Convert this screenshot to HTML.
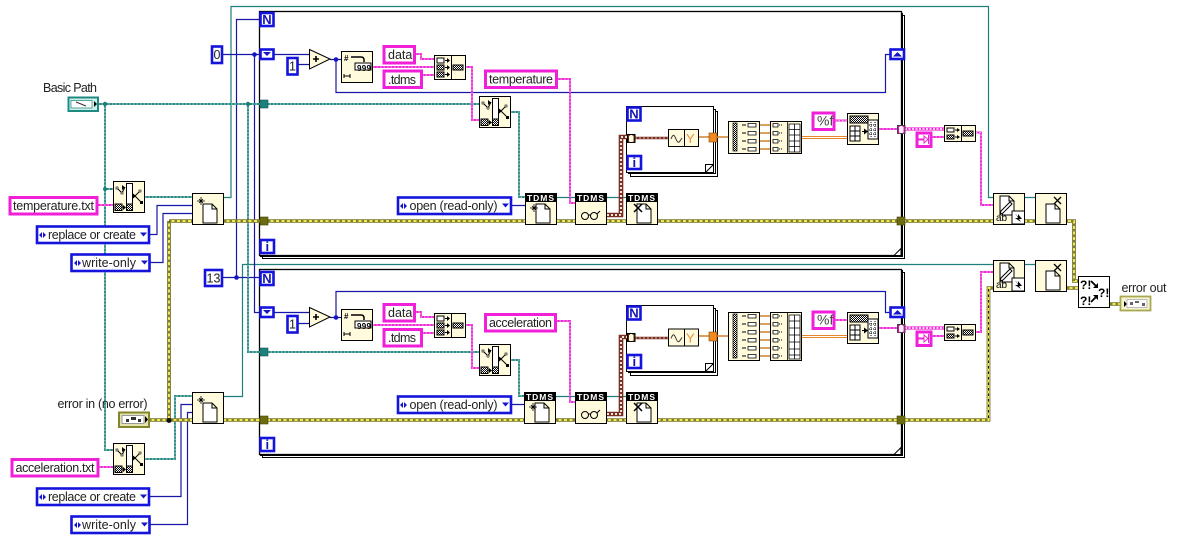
<!DOCTYPE html>
<html><head><meta charset="utf-8"><style>
html,body{margin:0;padding:0;background:#fff;width:1177px;height:539px;overflow:hidden}
svg{display:block}
text{font-family:"Liberation Sans",sans-serif;font-size:12.5px;fill:#222}
.n{fill:#fffbdc;stroke:#000;stroke-width:1}
.c{fill:#fff;stroke:#1414dc;stroke-width:2.6}
.s{fill:#fff;stroke:#f01fd8;stroke-width:3}
.f{fill:none;stroke:#000;stroke-width:1}
.bl{fill:none;stroke:#1616a8;stroke-width:1.2}
.rf{fill:none;stroke:#1f7f7a;stroke-width:1.2}
.nb{font-weight:bold;fill:#1414b4;font-size:13px;text-anchor:middle}
.w{fill:none;stroke-linejoin:miter}
.td{font-weight:bold;fill:#fff;font-size:8.5px;letter-spacing:1px;text-anchor:middle}
.ic{fill:none;stroke:#000;stroke-width:1}
.tu{fill:#6b6b12;stroke:#444408;stroke-width:.6}
.tt{fill:#1f7f7a;stroke:#0e5a55;stroke-width:.6}
.oj{fill:#f08a20;stroke:#804a10;stroke-width:.6}
</style></head><body>
<svg width="1177" height="539" viewBox="0 0 1177 539" xmlns="http://www.w3.org/2000/svg">
<defs>
<pattern id="chk" width="2" height="2" patternUnits="userSpaceOnUse"><rect width="2" height="2" fill="#fff"/><rect width="1" height="1" fill="#000"/><rect x="1" y="1" width="1" height="1" fill="#000"/></pattern>
<path id="pg" d="M10 11h9l5 5v14h-14z M19 11v5h5" />
<g id="bp"><rect class="n" x=".5" y=".5" width="31" height="31"/><rect x="13.5" y="2.5" width="6" height="27" fill="#fff" stroke="#000"/><rect x="13.5" y="23" width="6" height="6.5" fill="url(#chk)" stroke="#000"/><rect x="2" y="23" width="7" height="6.5" fill="url(#chk)" stroke="#000"/><path d="M4 7l5 5 3-6M22 15l5-5M22 15l7 7M9 26h3" stroke="#000" fill="none"/><path d="M9 4l3 2.500-3 2.500zM19.500 12l3.500 3-3.500 3zM10 24l3 2.500-3 2.500z"/><rect x="3" y="6" width="2" height="2" fill="#fff" stroke="#000" stroke-width=".6"/><rect x="8" y="11" width="2" height="2" fill="#fff" stroke="#000" stroke-width=".6"/><rect x="26" y="9" width="2" height="2" fill="#fff" stroke="#000" stroke-width=".6"/><rect x="27" y="20" width="3" height="3"/></g>
<g id="cc3"><rect class="n" x=".5" y=".5" width="31" height="24"/><path d="M17.5 .5v24" stroke="#000"/><rect x="3" y="3" width="7" height="5" fill="#fff" stroke="#000"/><rect x="3" y="10" width="7" height="5" fill="url(#chk)" stroke="#000"/><rect x="3" y="17" width="7" height="5" fill="url(#chk)" stroke="#000"/><path d="M11 5.500h3M11 12.500h3M11 19.500h3" stroke="#000"/><path d="M13 3l3 2.500-3 2.500zM13 10l3 2.500-3 2.500zM13 17l3 2.500-3 2.500z"/><rect x="19" y="10" width="10" height="5" fill="url(#chk)" stroke="#000"/></g>
<g id="cc2"><rect class="n" x=".5" y=".5" width="31" height="16"/><path d="M17.500 .5v16" stroke="#000"/><rect x="3" y="3" width="7" height="4" fill="#fff" stroke="#000"/><rect x="3" y="10" width="7" height="4" fill="url(#chk)" stroke="#000"/><path d="M11 5h3M11 12h3" stroke="#000"/><path d="M13 3l3 2-3 2zM13 10l3 2-3 2z"/><rect x="19" y="6" width="10" height="5" fill="url(#chk)" stroke="#000"/></g>
<g id="ns"><rect class="n" x=".5" y=".5" width="31" height="31"/><rect x="14" y="12" width="16" height="7" fill="#fff" stroke="#000"/><path d="M10 6h10c2 0 3 1 3 3v2" stroke="#000" stroke-width="1.500" fill="none"/><path d="M3 25h6M3 23v4M9 23v4" stroke="#000"/></g>
<g id="add"><path d="M.5 .5L21 10 .5 20z" fill="#fffbdc" stroke="#000"/><path d="M4 10h6M7 7v6" stroke="#000" stroke-width="1.600"/></g>
<g id="wave"><rect class="n" x=".5" y=".5" width="30" height="17"/><path d="M16.500 .5v17" stroke="#000"/><path d="M3 10c2-5 3-5 5 0s3 4 6-1" stroke="#333" fill="none"/></g>
<g id="a2s"><rect class="n" x=".5" y=".5" width="31" height="31"/><rect x="3" y="3" width="18" height="7" fill="url(#chk)" stroke="#000"/><rect x="3" y="13" width="10" height="15" fill="#fff" stroke="#000"/><path d="M8 13v15M3 18h10M3 23h10" stroke="#000"/><path d="M15 18.500h3" stroke="#000"/><path d="M17 15.500l4 3-4 3z"/><rect x="21" y="7" width="10" height="19" fill="#fff" stroke="#000"/><path d="M24 9v15M28 9v15M22 12h8M22 17h8M22 21h8" stroke="#000" stroke-dasharray="1 1"/></g>
<g id="sw">
<path d="M97 205H113M99 467H113M373 67H434M415 54H421V59H427V59H434M422 75H434M466 67H472V120H479M557 79H570V203H575M835 120.500H847M879 129H897M932 137H944M976 132.500H981V205H993"/>
<path d="M373 325H434M415 312H421V317H434M422 333H434M466 325H472V368H479M556 321H570V402H575M835 320H847M879 328H897M932 336H944M976 332H981V272H993"/>
</g>
<g id="dsw"><path d="M905 129H944M905 328H944"/></g>
<g id="pw">
<path d="M98 104H260H479M105 104V450H113M105 189H113M145 197H192M248 104V352H260M260 352H479M511 112H519V197H525M145 459H175V396H192M511 360H519V396H524"/>
</g>
<g id="ew">
<path d="M149 420H260H988.500V288H993M169 221V420M169 221H260H1074V281H1078M1067 288H1078M1110 304H1120"/>
</g>
<g id="bw"><path d="M607 215H621V137H627M607 414H621V337H627"/></g>
<g id="bw2"><path d="M635 138H668M635 338H668"/></g>
</defs>

<!-- outer loop frames -->
<g class="f">
<rect x="262.500" y="15.500" width="642" height="243" fill="#fff"/>
<rect x="260.500" y="13.500" width="642" height="243" fill="#fff"/>
<rect x="259.500" y="11.500" width="642" height="244" fill="#fff" stroke-width="1.300"/>
<rect x="262.500" y="272.500" width="642" height="185" fill="#fff"/>
<rect x="260.500" y="270.500" width="642" height="185" fill="#fff"/>
<rect x="259.500" y="269.500" width="642" height="185" fill="#fff" stroke-width="1.300"/>
</g>
<path d="M894 255.500L901 248.500V255.500z" fill="#fff" stroke="#000"/>
<path d="M894 454.500L901 447.500V454.500z" fill="#fff" stroke="#000"/>

<!-- inner loop frames -->
<g class="f">
<rect x="630.500" y="111.500" width="87" height="65" fill="#fff"/>
<rect x="628.500" y="109.500" width="87" height="64" fill="#fff"/>
<rect x="626.500" y="106.500" width="87" height="66" fill="#fff"/>
<rect x="630.500" y="310.500" width="87" height="65" fill="#fff"/>
<rect x="628.500" y="308.500" width="87" height="64" fill="#fff"/>
<rect x="626.500" y="305.500" width="87" height="66" fill="#fff"/>
</g>
<path d="M705.500 172.500L713.500 164.500V172.500zM705.500 172.500V164.500H713.500" fill="#fff" stroke="#000"/>
<path d="M705.500 371.500L713.500 363.500V371.500zM705.500 371.500V363.500H713.500" fill="#fff" stroke="#000"/>

<!-- refnum & numeric thin wires -->
<path class="rf" d="M224 197.500H231V6.500H988.500V197.500H993M224 396.500H242.500V264.500H993"/>
<path class="rf" d="M557 197.500H575M607 197.500H626M1025 197.500H1035M556 396.500H575M607 396.500H626M1025 264.500H1035"/>
<path class="bl" d="M222 54.500H309M298 64.500H309M330 59.500H341M336 59.500V92.500H885.500V54.500H890M222 277.500H260M236.500 277.500V19.500H260M254.500 54.500V312.500H309M298 323.500H309M330 317.500H341M336 317.500V291.500H885.500V312.500H890"/>
<path class="bl" d="M149 234.500H157V205.500H192M150 262.500H163V213.500H192M149 496.500H181V404.500H192M150 524.500H187.500V412.500H192M512 205.500H525M512 404.500H524"/>

<!-- path wires -->
<use href="#pw" class="w" stroke="#2a8a84" stroke-width="1.900"/>
<use href="#pw" class="w" stroke="#e4f6f2" stroke-width=".7" stroke-dasharray="1.500 2"/>
<!-- string wires -->
<use href="#sw" class="w" stroke="#ef2bd6" stroke-width="1.900"/>
<use href="#sw" class="w" stroke="#fde0f8" stroke-width=".7" stroke-dasharray="1.500 2"/>
<use href="#dsw" class="w" stroke="#ef2bd6" stroke-width="3.200"/>
<use href="#dsw" class="w" stroke="#fff" stroke-width="1.400" stroke-dasharray="2 1.500"/>
<!-- error wires -->
<use href="#ew" class="w" stroke="#3a3a18" stroke-width="3.600"/>
<use href="#ew" class="w" stroke="#f0ea50" stroke-width="2.400"/>
<use href="#ew" class="w" stroke="#111" stroke-width="1" stroke-dasharray="2.500 3"/>
<!-- brown wires -->
<use href="#bw" class="w" stroke="#7a2f22" stroke-width="4.600"/>
<use href="#bw" class="w" stroke="#f3e6d8" stroke-width="2" stroke-dasharray="2 2"/>
<use href="#bw2" class="w" stroke="#7a2f22" stroke-width="2.400"/>
<use href="#bw2" class="w" stroke="#f3e6d8" stroke-width=".8" stroke-dasharray="2 2"/>
<!-- orange wires -->
<path fill="none" stroke="#d8924a" stroke-width="1.800" d="M699 137H728M760 125H770M760 133H770M760 141H770M760 149H770M699 336H728M760 316H770M760 324H770M760 332H770M760 340H770M760 348H770M760 356H770"/>
<path fill="none" stroke="#e8862c" stroke-width="1.100" d="M802 136.500H847M802 138.500H847M802 335.500H847M802 337.500H847"/>

<!-- junctions -->
<g fill="#1414c8"><circle cx="254.500" cy="54.500" r="2.300"/><circle cx="336" cy="59.500" r="2.300"/><circle cx="236.500" cy="277.500" r="2.300"/><circle cx="336" cy="317.500" r="2.300"/></g>
<g fill="#1f7f7a"><circle cx="105" cy="104" r="2.200"/><circle cx="105" cy="189" r="2"/><circle cx="248" cy="104" r="2.200"/></g>
<circle cx="169" cy="420.500" r="2.500" fill="#111"/>

<!-- tunnels -->
<rect class="tt" x="260" y="100" width="8" height="8"/><rect class="tt" x="260" y="348" width="8" height="8"/>
<rect class="tu" x="260" y="217" width="8" height="8"/><rect class="tu" x="260" y="416" width="8" height="8"/>
<rect class="tu" x="897" y="217" width="8" height="8"/><rect class="tu" x="897" y="416" width="8" height="8"/>
<rect fill="#fdeffa" stroke="#444" x="897.500" y="125.500" width="7.500" height="8"/><rect fill="#fdeffa" stroke="#444" x="897.500" y="324.500" width="7.500" height="8"/>
<text x="901.300" y="132" style="font-size:8px;fill:#d010b0;font-weight:bold" text-anchor="middle">[ ]</text>
<text x="901.300" y="331" style="font-size:8px;fill:#d010b0;font-weight:bold" text-anchor="middle">[ ]</text>
<rect class="n" x="627.500" y="134.500" width="7.500" height="8"/><rect class="n" x="627.500" y="333.500" width="7.500" height="8"/>
<text x="631.300" y="141" style="font-size:8px;fill:#5a2010;font-weight:bold" text-anchor="middle">[ ]</text>
<text x="631.300" y="340" style="font-size:8px;fill:#5a2010;font-weight:bold" text-anchor="middle">[ ]</text>
<rect class="oj" x="709" y="133" width="8" height="9"/><rect class="oj" x="709" y="332" width="8" height="9"/>

<!-- N / i terminals -->
<g class="c"><rect x="260.500" y="13" width="13" height="13"/><rect x="260.500" y="240" width="13.500" height="13"/><rect x="260.500" y="272" width="13" height="13"/><rect x="260.500" y="438" width="13.500" height="13"/><rect x="627.500" y="107.500" width="13" height="13"/><rect x="627.500" y="156" width="13.500" height="13"/><rect x="627.500" y="306.500" width="13" height="13"/><rect x="627.500" y="355" width="13.500" height="13"/></g>
<text class="nb" x="267" y="24">N</text><text class="nb" x="267.300" y="251">i</text><text class="nb" x="267" y="283">N</text><text class="nb" x="267.300" y="449">i</text>
<text class="nb" x="634" y="118.500">N</text><text class="nb" x="634.300" y="167">i</text><text class="nb" x="634" y="317.500">N</text><text class="nb" x="634.300" y="366">i</text>

<!-- shift registers -->
<g class="c"><rect x="260.500" y="49.500" width="13" height="9.500"/><rect x="890.500" y="49.500" width="13.500" height="9.500"/><rect x="260.500" y="307.500" width="13" height="9.500"/><rect x="890.500" y="307.500" width="13.500" height="9.500"/></g>
<path fill="#1414c8" d="M263 52h8l-4 4zM893 56.500h9l-4.500-4.500zM263 310h8l-4 4zM893 314.500h9l-4.500-4.500z"/>

<!-- numeric constants -->
<rect class="c" x="212" y="46.500" width="10" height="16.500"/><text x="217" y="59" text-anchor="middle">0</text>
<rect class="c" x="287.500" y="58" width="10" height="16.500"/><text x="292.500" y="70.500" text-anchor="middle">1</text>
<rect class="c" x="205" y="270" width="17" height="16"/><text x="213.500" y="282.500" text-anchor="middle">13</text>
<rect class="c" x="287.500" y="316" width="10" height="16.500"/><text x="292.500" y="328.500" text-anchor="middle">1</text>

<!-- string constants -->
<g class="s">
<rect x="10" y="197.500" width="87" height="16.500"/>
<rect x="384" y="46.500" width="30.500" height="16.500"/><rect x="384" y="71" width="37.500" height="16.500"/>
<rect x="485.500" y="71" width="71" height="16.500"/>
<rect x="813" y="113" width="21" height="16.500"/>
<rect x="917" y="133" width="14" height="13.500"/>
<rect x="12" y="459.500" width="86" height="16.500"/>
<rect x="384" y="304.500" width="30.500" height="16.500"/><rect x="384" y="329.500" width="37.500" height="16.500"/>
<rect x="485.500" y="314.500" width="70" height="16.500"/>
<rect x="813" y="312" width="21" height="16.500"/>
<rect x="917" y="332" width="14" height="13.500"/>
</g>
<text x="13" y="210" textLength="81">temperature.txt</text>
<text x="388" y="59">data</text><text x="388" y="84" textLength="28">.tdms</text>
<text x="489" y="83.500" textLength="64">temperature</text>
<text x="817" y="125.500" style="font-size:14px;fill:#444">%f</text>
<path d="M919 139h5v-3l4 3.500-4 3.500v-3h-5zM928.500 135v9" stroke="#ee22d8" fill="none"/>
<text x="15.500" y="472" textLength="79">acceleration.txt</text>
<text x="388" y="317">data</text><text x="388" y="342" textLength="28">.tdms</text>
<text x="489" y="327" textLength="63">acceleration</text>
<text x="817" y="324.500" style="font-size:14px;fill:#444">%f</text>
<path d="M919 338h5v-3l4 3.500-4 3.500v-3h-5zM928.500 334v9" stroke="#ee22d8" fill="none"/>

<!-- ring constants -->
<g class="c">
<rect x="37" y="226.500" width="112" height="16.500"/><rect x="71.500" y="254.500" width="78" height="16.500"/>
<rect x="37" y="488.500" width="112" height="16.500"/><rect x="71.500" y="516.500" width="78" height="16.500"/>
<rect x="398" y="197.500" width="113" height="16.500"/><rect x="398" y="396.500" width="113" height="16.500"/>
</g>
<g fill="#1414c8">
<path d="M39 235l3-3v6zM43 232l3 3-3 3zM140 232.500h7l-3.500 4zM74 263l3-3v6zM78 260l3 3-3 3zM141 260.500h7l-3.500 4zM39 497l3-3v6zM43 494l3 3-3 3zM140 494.500h7l-3.500 4zM74 525l3-3v6zM78 522l3 3-3 3zM141 522.500h7l-3.500 4zM400 206l3-3v6zM404 203l3 3-3 3zM502 203.500h7l-3.500 4zM400 405l3-3v6zM404 402l3 3-3 3zM502 402.500h7l-3.500 4z"/>
</g>
<text x="48" y="239" textLength="88">replace or create</text>
<text x="82" y="267" textLength="54">write-only</text>
<text x="48" y="501" textLength="88">replace or create</text>
<text x="82" y="529" textLength="54">write-only</text>
<text x="409.500" y="210" textLength="88">open (read-only)</text>
<text x="409.500" y="409" textLength="88">open (read-only)</text>

<!-- labels -->
<text x="43" y="92" textLength="54">Basic Path</text>
<text x="57.500" y="408" textLength="90">error in (no error)</text>
<text x="1121.500" y="292" textLength="45">error out</text>

<!-- terminals -->
<rect x="68.500" y="97.500" width="29.500" height="13.500" fill="#d0f0ea" stroke="#1f8a80" stroke-width="2"/>
<path d="M71 100.500h21v7.500h-21z" fill="#fff" stroke="#1f8a80" stroke-width=".7"/>
<path d="M76 102l10 4" stroke="#333"/><path d="M94 101l3 3-3 3z"/>
<rect x="119" y="412.500" width="30" height="14.500" fill="#e4e4b0" stroke="#84842a" stroke-width="2"/>
<rect x="122" y="415.500" width="22" height="8" fill="#fff" stroke="#999"/><path d="M126 419h3v3h-3zM131 417h5v3h-5zM138 419h3v3h-3z" fill="#333"/><path d="M145 416l3 3.500-3 3.500z"/>
<rect x="1120.500" y="296.500" width="30" height="14" fill="#f4f4d0" stroke="#a8a850" stroke-width="1.800"/>
<path d="M1124 301l3 3-3 3z"/><rect x="1127" y="299.500" width="20" height="8" fill="#fff" stroke="#bbb"/><path d="M1130 302h3v3h-3zM1135 301h4v2h-4zM1142 303h3v3h-3z" fill="#666"/>

<!-- nodes -->
<use href="#bp" x="113" y="181"/>
<use href="#bp" x="113" y="443"/>
<use href="#bp" x="479" y="96"/>
<use href="#bp" x="479" y="344"/>

<use href="#add" x="309" y="49"/><use href="#add" x="309" y="307"/>

<use href="#ns" x="341" y="51"/><text x="357" y="71" style="font-size:8px;font-weight:bold;letter-spacing:.3px;fill:#000">999</text><text x="344" y="61" style="font-size:8px;font-weight:bold;fill:#000">#</text>
<use href="#ns" x="341" y="309"/><text x="357" y="329" style="font-size:8px;font-weight:bold;letter-spacing:.3px;fill:#000">999</text><text x="344" y="319" style="font-size:8px;font-weight:bold;fill:#000">#</text>

<use href="#cc3" x="434" y="55"/><use href="#cc3" x="434" y="313"/>
<use href="#cc2" x="944" y="125"/><use href="#cc2" x="944" y="324"/>

<!-- open file -->
<g><rect class="n" x="192.500" y="193.500" width="31" height="31"/><use href="#pg" x="193" y="193" fill="#fff" stroke="#000"/><path d="M199 199l4 4M203 199l-4 4M201 197v8M197 201h8" stroke="#000" stroke-width=".8"/></g>
<g><rect class="n" x="192.500" y="392.500" width="31" height="31"/><use href="#pg" x="193" y="392" fill="#fff" stroke="#000"/><path d="M199 398l4 4M203 398l-4 4M201 396v8M197 400h8" stroke="#000" stroke-width=".8"/></g>

<!-- TDMS nodes top -->
<g>
<rect class="n" x="525.500" y="193.500" width="31" height="31"/><rect x="525" y="193" width="32" height="9" fill="#000"/><text class="td" x="541" y="201">TDMS</text><use href="#pg" x="526" y="193" fill="#fff" stroke="#000"/><path d="M532 206l4 4M536 206l-4 4M534 204v8M530 208h8" stroke="#000" stroke-width=".8"/>
<rect class="n" x="575.500" y="193.500" width="31" height="31"/><rect x="575" y="193" width="32" height="9" fill="#000"/><text class="td" x="591" y="201">TDMS</text><circle cx="585" cy="216" r="3.500" class="ic"/><circle cx="594" cy="216" r="3.500" class="ic"/><path d="M588.500 215h2M597 214l3-3" class="ic"/>
<rect class="n" x="626.500" y="193.500" width="31" height="31"/><rect x="626" y="193" width="32" height="9" fill="#000"/><text class="td" x="642" y="201">TDMS</text><use href="#pg" x="627" y="193" fill="#fff" stroke="#000"/><path d="M634 204l8 8M642 204l-8 8" stroke="#000" stroke-width="1.500"/>
</g>
<!-- TDMS nodes bottom -->
<g>
<rect class="n" x="524.500" y="392.500" width="31" height="31"/><rect x="524" y="392" width="32" height="9" fill="#000"/><text class="td" x="540" y="400">TDMS</text><use href="#pg" x="525" y="392" fill="#fff" stroke="#000"/><path d="M531 405l4 4M535 405l-4 4M533 403v8M529 407h8" stroke="#000" stroke-width=".8"/>
<rect class="n" x="575.500" y="392.500" width="31" height="31"/><rect x="575" y="392" width="32" height="9" fill="#000"/><text class="td" x="591" y="400">TDMS</text><circle cx="585" cy="415" r="3.500" class="ic"/><circle cx="594" cy="415" r="3.500" class="ic"/><path d="M588.500 414h2M597 413l3-3" class="ic"/>
<rect class="n" x="626.500" y="392.500" width="31" height="31"/><rect x="626" y="392" width="32" height="9" fill="#000"/><text class="td" x="642" y="400">TDMS</text><use href="#pg" x="627" y="392" fill="#fff" stroke="#000"/><path d="M634 403l8 8M642 403l-8 8" stroke="#000" stroke-width="1.500"/>
</g>

<!-- waveform -->
<use href="#wave" x="668" y="129"/><text x="686" y="143" style="font-size:13px;fill:#e89040">Y</text>
<use href="#wave" x="668" y="328.500"/><text x="686" y="342.500" style="font-size:13px;fill:#e89040">Y</text>

<!-- index / build arrays top -->
<g>
<rect class="n" x="728.500" y="121.500" width="31" height="32"/><rect x="733" y="123" width="4" height="28" fill="url(#chk)" stroke="#000" stroke-width=".7"/>
<path d="M742 125h4M742 133h4M742 141h4M742 149h4" stroke="#000"/><path d="M748 123.500h8v3.500h-8zM748 131.500h8v3.500h-8zM748 139.500h8v3.500h-8zM748 147.500h8v3.500h-8z" fill="#fff" stroke="#000" stroke-width=".8"/>
<rect class="n" x="770.500" y="121.500" width="31" height="32"/><path d="M773 123.500h5v3.500h-5zM773 131.500h5v3.500h-5zM773 139.500h5v3.500h-5zM773 147.500h5v3.500h-5z" fill="#fff" stroke="#000" stroke-width=".8"/><path d="M779 125h4M779 133h4M779 141h4M779 149h4" stroke="#000" stroke-dasharray="1 1"/>
<path d="M787.500 122v31M789 124h11v28h-11zM794.500 124v28M789 129.500h11M789 135h11M789 141h11M789 146.500h11" fill="#fff" stroke="#000" stroke-width=".8"/>
</g>
<!-- index / build arrays bottom -->
<g>
<rect class="n" x="728.500" y="312.500" width="31" height="48"/><rect x="733" y="314" width="4" height="44" fill="url(#chk)" stroke="#000" stroke-width=".7"/>
<path d="M742 316h4M742 324h4M742 332h4M742 340h4M742 348h4M742 356h4" stroke="#000"/><path d="M748 314.500h8v3.500h-8zM748 322.500h8v3.500h-8zM748 330.500h8v3.500h-8zM748 338.500h8v3.500h-8zM748 346.500h8v3.500h-8zM748 354.500h8v3.500h-8z" fill="#fff" stroke="#000" stroke-width=".8"/>
<rect class="n" x="770.500" y="312.500" width="31" height="48"/><path d="M773 314.500h5v3.500h-5zM773 322.500h5v3.500h-5zM773 330.500h5v3.500h-5zM773 338.500h5v3.500h-5zM773 346.500h5v3.500h-5zM773 354.500h5v3.500h-5z" fill="#fff" stroke="#000" stroke-width=".8"/><path d="M779 316h4M779 324h4M779 332h4M779 340h4M779 348h4M779 356h4" stroke="#000" stroke-dasharray="1 1"/>
<path d="M787.500 313v47M789 315h11v44h-11zM794.500 315v44M789 321h11M789 328h11M789 335h11M789 342h11M789 349h11M789 355h11" fill="#fff" stroke="#000" stroke-width=".8"/>
</g>

<use href="#a2s" x="847" y="113"/><use href="#a2s" x="847" y="312"/>

<!-- write to text file top -->
<g>
<rect class="n" x="993.500" y="193.500" width="31" height="31"/><use href="#pg" x="990" y="185" fill="#fff" stroke="#000"/><path d="M1001 211l9-9 2 2-9 9-3 1z" fill="#fff" stroke="#000"/><text x="996" y="221" style="font-size:10px;fill:#000">ab</text><rect x="1012" y="211" width="12.500" height="13" fill="#fff" stroke="#000"/><path d="M1015 213l3 4v-3l4 5h-3l2 3-6-4h3z"/>
<rect class="n" x="1035.500" y="193.500" width="31" height="31"/><use href="#pg" x="1036" y="193" fill="#fff" stroke="#000"/><path d="M1054 197l7 7M1061 197l-7 7" stroke="#000" stroke-width="1.300"/>
</g>
<!-- write to text file bottom -->
<g>
<rect class="n" x="993.500" y="260.500" width="31" height="31"/><use href="#pg" x="990" y="252" fill="#fff" stroke="#000"/><path d="M1001 278l9-9 2 2-9 9-3 1z" fill="#fff" stroke="#000"/><text x="996" y="288" style="font-size:10px;fill:#000">ab</text><rect x="1012" y="278" width="12.500" height="13" fill="#fff" stroke="#000"/><path d="M1015 280l3 4v-3l4 5h-3l2 3-6-4h3z"/>
<rect class="n" x="1035.500" y="260.500" width="31" height="31"/><use href="#pg" x="1036" y="260" fill="#fff" stroke="#000"/><path d="M1054 264l7 7M1061 264l-7 7" stroke="#000" stroke-width="1.300"/>
</g>

<!-- merge errors -->
<rect x="1078.500" y="276.500" width="31" height="31" fill="#fff" stroke="#000"/>
<text x="1080" y="289" style="font-size:12px;font-weight:bold;fill:#000">?!</text>
<text x="1080" y="305" style="font-size:12px;font-weight:bold;fill:#000">?!</text>
<text x="1098" y="297" style="font-size:12px;font-weight:bold;fill:#000">?!</text>
<path d="M1091 281l6 6M1091 302l6-6" stroke="#000" stroke-width="1.800"/><path d="M1098 288l-5 0 5-5zM1098 295l-5 0 5 5z"/>
</svg>
</body></html>
